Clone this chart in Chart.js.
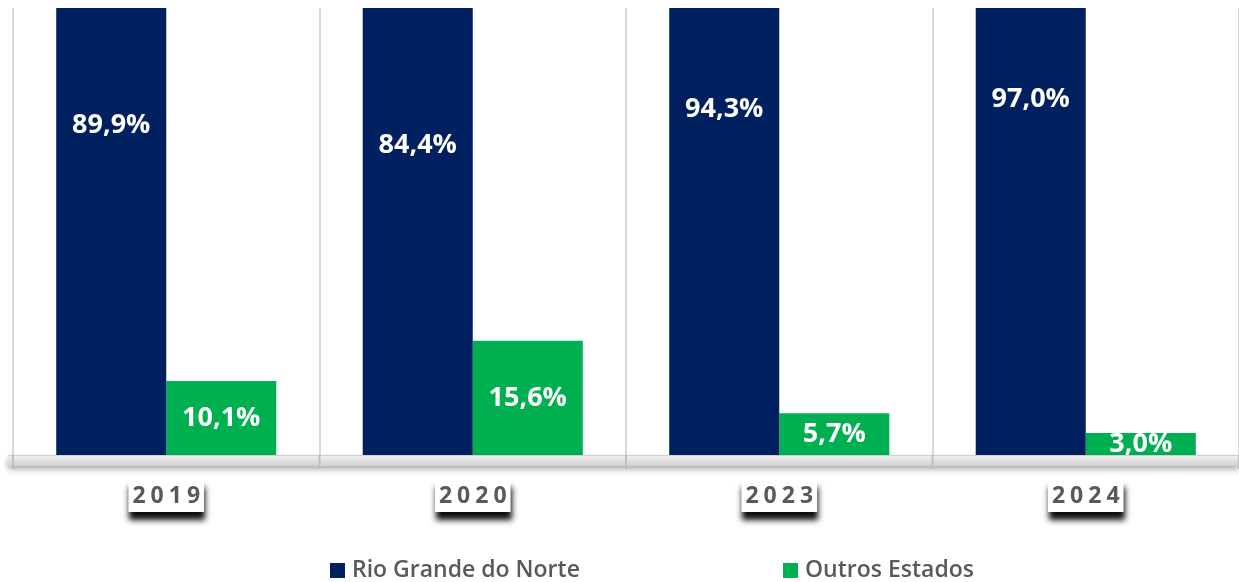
<!DOCTYPE html>
<html>
<head>
<meta charset="utf-8">
<script src="https://cdn.jsdelivr.net/npm/chart.js@4.4.1/dist/chart.umd.min.js"></script>
<style>
  html, body { margin: 0; padding: 0; background: #ffffff; }
  #wrap { width: 1239px; height: 582px; position: relative; }
</style>
</head>
<body>
<div id="wrap"><canvas id="chart"></canvas></div>
<script>
// Chart data
const years = ['2019', '2020', '2023', '2024'];
const rioGrandeDoNorte = [89.9, 84.4, 94.3, 97.0];
const outrosEstados = [10.1, 15.6, 5.7, 3.0];
const seriesNames = ['Rio Grande do Norte', 'Outros Estados'];
const seriesColors = ['#002060', '#00B050'];

const fmt = v => v.toFixed(1).replace('.', ',') + '%';

// Labels centred on the full bar height (even where the bar is clipped)
const valueLabels = {
    id: 'valueLabels',
    afterDatasetsDraw(chart) {
        const { ctx, scales: { y } } = chart;
        ctx.save();
        ctx.font = 'bold 27px "Open Sans"';
        ctx.fillStyle = '#ffffff';
        ctx.textAlign = 'center';
        ctx.textBaseline = 'middle';
        chart.data.datasets.forEach((ds, di) => {
            chart.getDatasetMeta(di).data.forEach((bar, i) => {
                const v = ds.data[i];
                ctx.fillText(fmt(v), bar.x, y.getPixelForValue(v / 2));
            });
        });
        ctx.restore();
    }
};

// Axis band, tick boxes and legend
const decorations = {
    id: 'decorations',
    afterDraw(chart) {
        const { ctx, chartArea, scales: { x } } = chart;
        const base = chartArea.bottom;
        ctx.save();

        // 3D-looking axis band
        ctx.save();
        ctx.shadowColor = 'rgba(0,0,0,0.35)';
        ctx.shadowBlur = 6;
        ctx.shadowOffsetY = 3;
        const grad = ctx.createLinearGradient(0, base, 0, base + 12);
        grad.addColorStop(0, '#f2f2f2');
        grad.addColorStop(1, '#cfcfcf');
        ctx.fillStyle = grad;
        ctx.fillRect(8, base + 1, chart.width - 8, 10);
        ctx.restore();
        ctx.strokeStyle = '#d0d0d0';
        ctx.lineWidth = 1;
        ctx.beginPath();
        ctx.moveTo(8, base + 0.5);
        ctx.lineTo(chart.width, base + 0.5);
        ctx.stroke();

        // tick marks below the band
        ctx.strokeStyle = '#bfbfbf';
        ctx.lineWidth = 2;
        for (let i = 0; i <= years.length; i++) {
            const px = chartArea.left + i * (chartArea.width / years.length);
            ctx.beginPath();
            ctx.moveTo(px, base);
            ctx.lineTo(px, base + 14);
            ctx.stroke();
        }

        // category labels on white boxes with a dark drop shadow
        ctx.font = 'bold 23px "Open Sans"';
        ctx.letterSpacing = '5px';
        ctx.textAlign = 'left';
        ctx.textBaseline = 'middle';
        years.forEach((label, i) => {
            const cx = x.getPixelForValue(i);
            const w = ctx.measureText(label).width - 5;
            const bx = cx - w / 2 - 4, by = 479, bw = w + 8, bh = 33;
            ctx.save();
            ctx.shadowColor = 'rgba(0,0,0,0.95)';
            ctx.shadowBlur = 6;
            ctx.shadowOffsetY = 8;
            ctx.shadowOffsetX = 1;
            ctx.fillStyle = '#ffffff';
            ctx.fillRect(bx, by, bw, bh);
            ctx.restore();
            ctx.fillStyle = '#595959';
            ctx.fillText(label, cx - w / 2, by + bh / 2 + 1);
        });
        ctx.letterSpacing = '0px';

        // legend
        ctx.font = '600 23px "Open Sans"';
        ctx.textBaseline = 'middle';
        const legendX = [330, 783];
        seriesNames.forEach((name, i) => {
            ctx.fillStyle = seriesColors[i];
            ctx.fillRect(legendX[i], 563, 15, 15);
            ctx.fillStyle = '#595959';
            ctx.fillText(name, legendX[i] + 22, 570);
        });
        ctx.restore();
    }
};

new Chart(document.getElementById('chart'), {
    type: 'bar',
    data: {
        labels: years,
        datasets: [
            {
                label: seriesNames[0],
                data: rioGrandeDoNorte,
                backgroundColor: seriesColors[0],
                categoryPercentage: 0.718,
                barPercentage: 1.0
            },
            {
                label: seriesNames[1],
                data: outrosEstados,
                backgroundColor: seriesColors[1],
                categoryPercentage: 0.718,
                barPercentage: 1.0
            }
        ]
    },
    options: {
        responsive: true,
        maintainAspectRatio: false,
        animation: false,
        devicePixelRatio: 1,
        layout: {
            padding: { left: 13, right: 0, top: 8, bottom: 127 }
        },
        plugins: {
            legend: { display: false },
            tooltip: { enabled: false }
        },
        scales: {
            x: {
                ticks: { display: false },
                border: { display: false },
                grid: {
                    offset: true,
                    color: '#d9d9d9',
                    lineWidth: 2,
                    drawTicks: false
                }
            },
            y: {
                display: false,
                min: 0,
                max: 61
            }
        }
    },
    plugins: [valueLabels, decorations]
});
</script>
</body>
</html>
